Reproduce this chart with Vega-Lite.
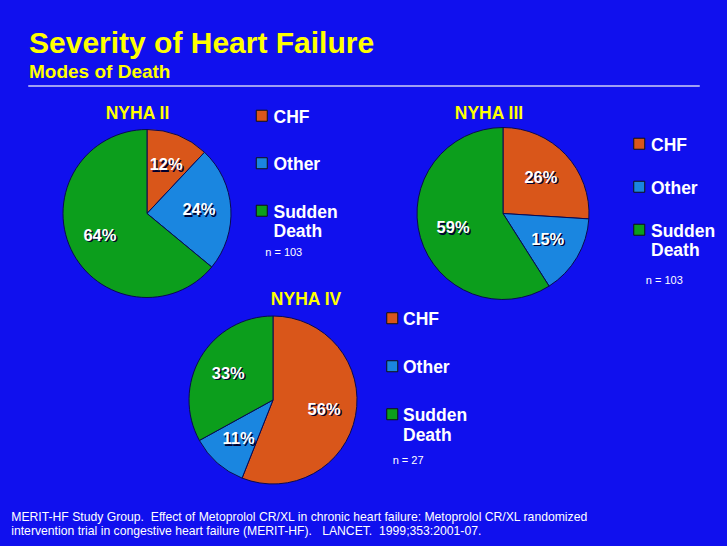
{
  "$schema": "https://vega.github.io/schema/vega-lite/v6.json",
  "background": "#1010ee",
  "padding": {"left": 11, "top": 28, "right": 11, "bottom": 10},
  "config": {"view": {"stroke": null}, "font": "Liberation Sans"},
  "title": {
    "text": ["MERIT-HF Study Group.\u00a0 Effect of Metoprolol CR/XL in chronic heart failure: Metoprolol CR/XL randomized", "intervention trial in congestive heart failure (MERIT-HF).\u00a0\u00a0 LANCET.\u00a0 1999;353:2001-07."],
    "orient": "bottom", "anchor": "start", "dx": -17, "offset": 25,
    "fontSize": 12.2, "fontWeight": "normal", "color": "white", "lineHeight": 14, "font": "Liberation Sans"
  },
  "spacing": -11.5,
  "resolve": {"scale": {"color": "independent"}, "legend": {"color": "independent"}},
  "vconcat": [
    {
      "bounds": "flush", "spacing": 0,
      "resolve": {"scale": {"color": "independent"}, "legend": {"color": "independent"}},
      "hconcat": [
        {
          "width": 670, "height": 0.01,
          "data": {"values": []},
          "mark": "text",
          "encoding": {},
          "view": {"stroke": "#d0d0f4", "strokeWidth": 1.5},
          "title": {
            "text": "Severity of Heart Failure", "subtitle": "Modes of Death",
            "anchor": "start", "frame": "group", "fontSize": 30, "subtitleFontSize": 19,
            "color": "#ffff00", "subtitleColor": "#ffff00",
            "fontWeight": "bold", "subtitleFontWeight": "bold",
            "font": "Liberation Sans", "subtitleFont": "Liberation Sans",
            "offset": 4, "subtitlePadding": 4
          }
        },
        {"width": 0.01, "height": 25, "data": {"values": []}, "mark": "text", "encoding": {}}
      ]
    },
    {
      "bounds": "flush", "spacing": 0,
      "resolve": {"scale": {"color": "independent"}, "legend": {"color": "independent"}},
      "hconcat": [
        {"width": 32, "height": 1, "data": {"values": []}, "mark": "text", "encoding": {}},
        {
          "width": 172, "height": 172,
          "title": {"text": "NYHA II", "frame": "group", "dx": -9.5, "offset": -22.5, "fontSize": 17.5, "fontWeight": "bold", "color": "#ffff00", "anchor": "middle", "font": "Liberation Sans"},
          "data": {"values": [
            {"mode": "CHF", "share": 0.12},
            {"mode": "Other", "share": 0.24},
            {"mode": "Sudden Death", "share": 0.64}
          ]},
          "encoding": {
            "theta": {"field": "share", "type": "quantitative", "stack": true},
            "order": {"field": "mode", "type": "ordinal"}
          },
          "layer": [
            {
              "mark": {"type": "arc", "radius": 84, "stroke": "#0a0a50", "strokeWidth": 1},
              "encoding": {
                "color": {
                  "field": "mode", "type": "nominal",
                  "scale": {"domain": ["CHF", "Other", "Sudden Death"], "range": ["#d9561a", "#1a86e0", "#0c9e1c"]},
                  "legend": {
                    "orient": "none", "legendX": 192, "legendY": -27.5, "padding": 0,
                    "title": "\u200b\u00a0\u00a0\u00a0\u00a0n = 103", "titleOrient": "bottom", "titleAnchor": "start",
                    "titleFontSize": 11, "titleFontWeight": "normal", "titleColor": "white", "titlePadding": 6, "titleFont": "Liberation Sans",
                    "labelColor": "white", "labelFontSize": 17.5, "labelFontWeight": "bold", "labelFont": "Liberation Sans",
                    "labelExpr": "datum.label == 'Sudden Death' ? ['Sudden', 'Death'] : datum.label",
                    "labelBaseline": "top", "labelOffset": 3, "labelLimit": 300,
                    "symbolType": "M-1,0.27H1V2.27H-1Z", "symbolSize": 121, "symbolStrokeColor": "#111111", "symbolStrokeWidth": 1, "symbolOpacity": 1,
                    "rowPadding": 20.5
                  }
                }
              }
            },
            {
              "mark": {"type": "text", "radius": 52, "dx": 1.5, "dy": 1.5, "fill": "#000030", "fontSize": 16.5, "fontWeight": "bold", "font": "Liberation Sans"},
              "encoding": {"detail": {"field": "mode"}, "text": {"field": "share", "type": "quantitative", "format": ".0%"}}
            },
            {
              "mark": {"type": "text", "radius": 52, "fill": "white", "fontSize": 16.5, "fontWeight": "bold", "font": "Liberation Sans"},
              "encoding": {"detail": {"field": "mode"}, "text": {"field": "share", "type": "quantitative", "format": ".0%"}}
            }
          ]
        },
        {"width": 183.5, "height": 1, "data": {"values": []}, "mark": "text", "encoding": {}},
        {
          "width": 172, "height": 172,
          "title": {"text": "NYHA III", "frame": "group", "dx": -14, "offset": 3, "fontSize": 17.5, "fontWeight": "bold", "color": "#ffff00", "anchor": "middle", "font": "Liberation Sans"},
          "data": {"values": [
            {"mode": "CHF", "share": 0.26},
            {"mode": "Other", "share": 0.15},
            {"mode": "Sudden Death", "share": 0.59}
          ]},
          "encoding": {
            "theta": {"field": "share", "type": "quantitative", "stack": true},
            "order": {"field": "mode", "type": "ordinal"}
          },
          "layer": [
            {
              "mark": {"type": "arc", "radius": 86, "stroke": "#0a0a50", "strokeWidth": 1},
              "encoding": {
                "color": {
                  "field": "mode", "type": "nominal",
                  "scale": {"domain": ["CHF", "Other", "Sudden Death"], "range": ["#d9561a", "#1a86e0", "#0c9e1c"]},
                  "legend": {
                    "orient": "none", "legendX": 213.5, "legendY": 0.5, "padding": 0,
                    "title": "\u200b\u00a0\u00a0\u00a0\u00a0\u00a0n = 103", "titleOrient": "bottom", "titleAnchor": "start",
                    "titleFontSize": 11, "titleFontWeight": "normal", "titleColor": "white", "titlePadding": 15, "titleFont": "Liberation Sans",
                    "labelColor": "white", "labelFontSize": 17.5, "labelFontWeight": "bold", "labelFont": "Liberation Sans",
                    "labelExpr": "datum.label == 'Sudden Death' ? ['Sudden', 'Death'] : datum.label",
                    "labelBaseline": "top", "labelOffset": 3, "labelLimit": 300,
                    "symbolType": "M-1,0.27H1V2.27H-1Z", "symbolSize": 121, "symbolStrokeColor": "#111111", "symbolStrokeWidth": 1, "symbolOpacity": 1,
                    "rowPadding": 16
                  }
                }
              }
            },
            {
              "mark": {"type": "text", "radius": 52, "dx": 1.5, "dy": 1.5, "fill": "#000030", "fontSize": 16.5, "fontWeight": "bold", "font": "Liberation Sans"},
              "encoding": {"detail": {"field": "mode"}, "text": {"field": "share", "type": "quantitative", "format": ".0%"}}
            },
            {
              "mark": {"type": "text", "radius": 52, "fill": "white", "fontSize": 16.5, "fontWeight": "bold", "font": "Liberation Sans"},
              "encoding": {"detail": {"field": "mode"}, "text": {"field": "share", "type": "quantitative", "format": ".0%"}}
            }
          ]
        }
      ]
    },
    {
      "bounds": "flush", "spacing": 0,
      "resolve": {"scale": {"color": "independent"}, "legend": {"color": "independent"}},
      "hconcat": [
        {"width": 157.5, "height": 1, "data": {"values": []}, "mark": "text", "encoding": {}},
        {
          "width": 172, "height": 172,
          "title": {"text": "NYHA IV", "frame": "group", "dx": 33, "offset": -5.5, "fontSize": 17.5, "fontWeight": "bold", "color": "#ffff00", "anchor": "middle", "font": "Liberation Sans"},
          "data": {"values": [
            {"mode": "CHF", "share": 0.56},
            {"mode": "Other", "share": 0.11},
            {"mode": "Sudden Death", "share": 0.33}
          ]},
          "encoding": {
            "theta": {"field": "share", "type": "quantitative", "stack": true},
            "order": {"field": "mode", "type": "ordinal"}
          },
          "layer": [
            {
              "mark": {"type": "arc", "radius": 84, "stroke": "#0a0a50", "strokeWidth": 1},
              "encoding": {
                "color": {
                  "field": "mode", "type": "nominal",
                  "scale": {"domain": ["CHF", "Other", "Sudden Death"], "range": ["#d9561a", "#1a86e0", "#0c9e1c"]},
                  "legend": {
                    "orient": "none", "legendX": 196.5, "legendY": -11.5, "padding": 0,
                    "title": "\u200b\u00a0\u00a0\u00a0n = 27", "titleOrient": "bottom", "titleAnchor": "start",
                    "titleFontSize": 11, "titleFontWeight": "normal", "titleColor": "white", "titlePadding": 10, "titleFont": "Liberation Sans",
                    "labelColor": "white", "labelFontSize": 17.5, "labelFontWeight": "bold", "labelFont": "Liberation Sans",
                    "labelExpr": "datum.label == 'Sudden Death' ? ['Sudden', 'Death'] : datum.label",
                    "labelBaseline": "top", "labelOffset": 2, "labelLimit": 300,
                    "symbolType": "M-1,0.27H1V2.27H-1Z", "symbolSize": 121, "symbolStrokeColor": "#111111", "symbolStrokeWidth": 1, "symbolOpacity": 1,
                    "rowPadding": 21
                  }
                }
              }
            },
            {
              "mark": {"type": "text", "radius": 52, "dx": 1.5, "dy": 1.5, "fill": "#000030", "fontSize": 16.5, "fontWeight": "bold", "font": "Liberation Sans"},
              "encoding": {"detail": {"field": "mode"}, "text": {"field": "share", "type": "quantitative", "format": ".0%"}}
            },
            {
              "mark": {"type": "text", "radius": 52, "fill": "white", "fontSize": 16.5, "fontWeight": "bold", "font": "Liberation Sans"},
              "encoding": {"detail": {"field": "mode"}, "text": {"field": "share", "type": "quantitative", "format": ".0%"}}
            }
          ]
        }
      ]
    }
  ]
}
